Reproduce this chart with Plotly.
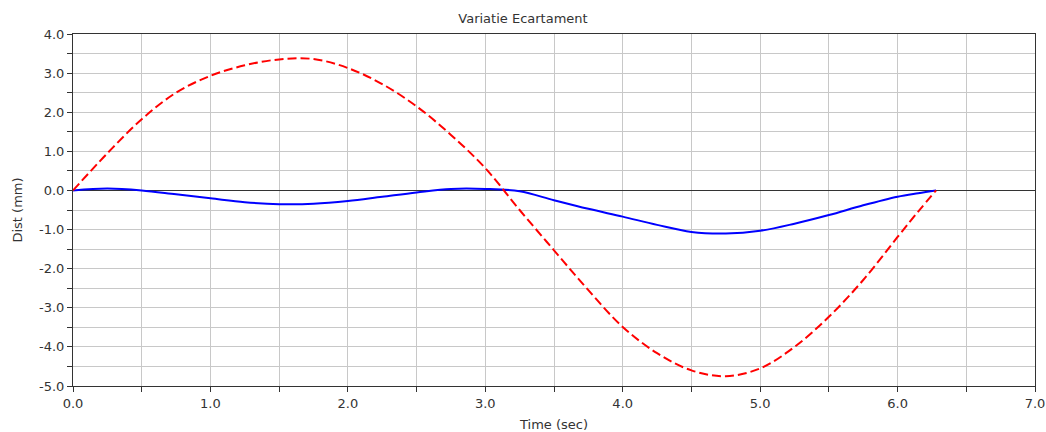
import plotly.graph_objects as go

time = [0.0, 0.25, 0.5, 0.75, 1.0, 1.25, 1.5, 1.75, 2.0, 2.25, 2.5, 2.75, 3.0,
        3.25, 3.5, 3.75, 4.0, 4.25, 4.5, 4.75, 5.0, 5.25, 5.5, 5.75, 6.0, 6.15, 6.28]
red_dist = [0.0, 0.95, 1.82, 2.5, 2.93, 3.2, 3.35, 3.36, 3.13, 2.72, 2.15, 1.42, 0.57,
            -0.5, -1.53, -2.55, -3.49, -4.16, -4.6, -4.75, -4.55, -4.0, -3.23, -2.29, -1.19, -0.54, 0.0]
blue_dist = [0.0, 0.05, 0.0, -0.1, -0.2, -0.3, -0.35, -0.34, -0.27, -0.16, -0.05, 0.04, 0.04,
             -0.02, -0.25, -0.47, -0.67, -0.88, -1.06, -1.1, -1.03, -0.85, -0.63, -0.38, -0.16, -0.07, 0.0]

x_tick_vals = [0, 1, 2, 3, 4, 5, 6, 7]
x_tick_text = ["0.0", "1.0", "2.0", "3.0", "4.0", "5.0", "6.0", "7.0"]
y_tick_vals = [-5, -4, -3, -2, -1, 0, 1, 2, 3, 4]
y_tick_text = ["-5.0", "-4.0", "-3.0", "-2.0", "-1.0", "0.0", "1.0", "2.0", "3.0", "4.0"]

FONT = "DejaVu Sans, Liberation Sans, Arial"

fig = go.Figure()
fig.add_trace(go.Scatter(x=time, y=blue_dist, mode="lines",
                         line=dict(color="#0000FF", width=2, shape="spline"),
                         showlegend=False))
fig.add_trace(go.Scatter(x=time, y=red_dist, mode="lines",
                         line=dict(color="#FF0000", width=2, dash="9px,4px", shape="spline"),
                         showlegend=False))

axis_common = dict(
    showgrid=True, gridcolor="#c8c8c8", gridwidth=1,
    showline=True, linecolor="#333333", linewidth=1, mirror=True,
    ticks="outside", ticklen=5, tickcolor="#333333",
    tickmode="array", automargin=False,
    tickfont=dict(family=FONT, size=13, color="#333333"),
    minor=dict(dtick=0.5, tick0=0, ticks="outside", ticklen=5, tickcolor="#333333",
               showgrid=True, gridcolor="#c8c8c8", gridwidth=1),
)

fig.update_layout(
    width=1046, height=432,
    margin=dict(l=73, r=11, t=34, b=46),
    paper_bgcolor="white", plot_bgcolor="white",
    font=dict(family=FONT, size=13, color="#333333"),
    title=dict(text="Variatie Ecartament", x=0.5, xanchor="center",
               y=1 - 18 / 432, yanchor="middle", xref="container",
               font=dict(family=FONT, size=13, color="#333333")),
    xaxis=dict(range=[0, 7], tickvals=x_tick_vals, ticktext=x_tick_text,
               title=dict(text="Time (sec)", standoff=10,
               font=dict(family=FONT, size=13)), zeroline=False, **axis_common),
    yaxis=dict(range=[-5, 4], tickvals=y_tick_vals, ticktext=y_tick_text,
               title=dict(text="Dist (mm)", standoff=13,
               font=dict(family=FONT, size=13)), zeroline=True, zerolinecolor="#333333",
               zerolinewidth=1, **axis_common),
)

fig.write_html("out.html")
